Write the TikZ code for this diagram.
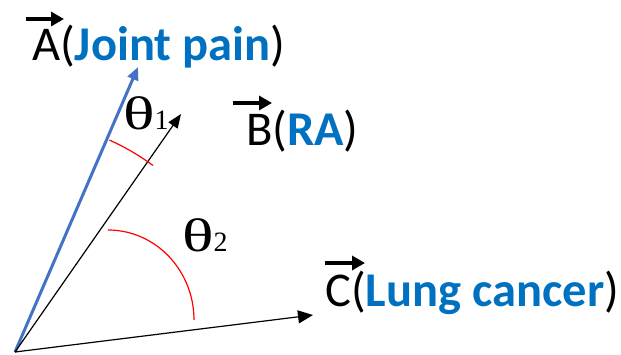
\documentclass[tikz,border=0pt]{standalone}
\usepackage{fontspec}
\setmainfont{Carlito}
\newfontfamily\thetafont{Liberation Serif}
\usetikzlibrary{arrows.meta}
\definecolor{txtblue}{HTML}{0070C0}
\definecolor{vecblue}{HTML}{4472C4}
\tikzset{
  lbl/.style={anchor=base west, inner sep=0pt, font=\fontsize{48.5}{48.5}\selectfont},
  thl/.style={anchor=base west, inner sep=0pt},
  vecbar/.style={line width=4.5pt, -{Triangle[length=13pt,width=14pt]}},
  redarc/.style={red, line width=1.2pt},
}
\begin{document}
\begin{tikzpicture}[x=1pt,y=-1pt]
\useasboundingbox (0,0) rectangle (621,355);
\coordinate (O) at (15,352);
\coordinate (Atip) at (138,67);
\coordinate (Btip) at (181,114);
\coordinate (Ctip) at (313,315);
% labels
\node[lbl] (A) at (32,61) {A(\textbf{\color{txtblue}Joint pain})};
\node[lbl] (B) at (246,146) {B(\textbf{\color{txtblue}RA})};
\node[lbl] (C) at (325,306) {C(\textbf{\color{txtblue}Lung cancer})};
% vector marks
\draw[vecbar] (26,19) -- (64,19);
\draw[vecbar] (233,103) -- (272,103);
\draw[vecbar] (325,263) -- (365,263);
% vectors
\draw[vecblue, line width=3pt, -{Triangle[length=13pt,width=11pt]}] (O) -- (Atip);
\draw[black, line width=1.2pt, -{Triangle[length=14pt,width=11pt]}] (O) -- (Btip);
\draw[black, line width=1.2pt, -{Triangle[length=15pt,width=13pt]}] (O) -- (Ctip);
% angles
\draw[redarc] ([shift={(66:232pt)}]O) arc[start angle=66, end angle=53.5, radius=232pt];
\draw[redarc] (108,230) arc[start angle=90, end angle=0, x radius=86pt, y radius=90pt];
\node[thl] (t1) at (123,130) {\thetafont\scalebox{1.4}[1]{\fontsize{47}{47}\selectfont θ}\fontsize{28}{28}\selectfont 1};
\node[thl] (t2) at (182,252) {\thetafont\scalebox{1.4}[1]{\fontsize{47}{47}\selectfont θ}\fontsize{28}{28}\selectfont 2};
\end{tikzpicture}
\end{document}
